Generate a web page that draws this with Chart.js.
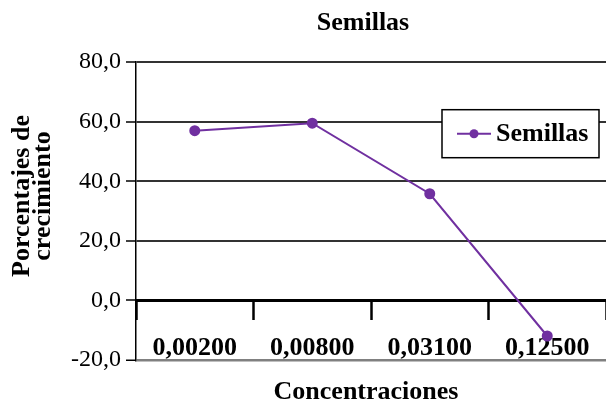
<!DOCTYPE html>
<html>
<head>
<meta charset="utf-8">
<script src="https://cdn.jsdelivr.net/npm/chart.js@4/dist/chart.umd.min.js"></script>
<style>
  html, body { margin: 0; padding: 0; background: #fff; }
  #wrap { width: 606px; height: 414px; }
</style>
</head>
<body>
<div id="wrap"><canvas id="chart" width="606" height="414"></canvas></div>
<script>
// Concentration categories and growth percentage of the seeds
const concentrations = ['0,00200', '0,00800', '0,03100', '0,12500'];
const seedGrowth = [57.0, 59.5, 35.8, -12.0];
const seriesName = 'Semillas';
const chartTitle = 'Semillas';
const xAxisTitle = 'Concentraciones';
const yAxisTitle = ['Porcentajes de', 'crecimiento'];
const yMin = -20, yMax = 80, yStep = 20;

const serif = '"Liberation Serif", "Times New Roman", serif';
const purple = '#7030A0';
const boldSize = 26;
Chart.defaults.font.family = serif;
Chart.defaults.color = '#000';

// Puts the title and the bottom caption on a common horizontal centre
const titleCentre = {
  id: 'titleCentre',
  afterLayout(chart, args, opts) {
    chart.boxes.forEach(b => {
      if (!b.options || (b.options.text !== chartTitle && b.options.text !== xAxisTitle)) return;
      const c = b.options.text === chartTitle ? opts.title : opts.caption;
      const half = (b.right - b.left) / 2;
      b.left = c - half;
      b.right = c + half;
    });
  }
};

// Two-line rotated caption of the value axis
const valueAxisCaption = {
  id: 'valueAxisCaption',
  afterDraw(chart, args, opts) {
    const { ctx } = chart;
    ctx.save();
    ctx.font = 'bold ' + boldSize + 'px ' + serif;
    ctx.fillStyle = '#000';
    ctx.textAlign = 'center';
    ctx.textBaseline = 'middle';
    ctx.translate(opts.x, opts.y);
    ctx.rotate(-Math.PI / 2);
    yAxisTitle.forEach((line, i) => ctx.fillText(line, 0, i * opts.lineGap));
    ctx.restore();
  }
};

// Boxed legend drawn inside the plot, near its upper right corner
const boxedLegend = {
  id: 'boxedLegend',
  afterDraw(chart) {
    const { ctx, chartArea } = chart;
    const ds = chart.data.datasets[0];
    const w = 157, h = 48;
    const x = chartArea.right - 164;
    const y = chartArea.top + 47.5;
    ctx.save();
    ctx.fillStyle = '#fff';
    ctx.fillRect(x, y, w, h);
    ctx.strokeStyle = '#000';
    ctx.lineWidth = 1.5;
    ctx.strokeRect(x, y, w, h);
    const cy = y + 24;
    ctx.strokeStyle = ds.borderColor;
    ctx.lineWidth = 2;
    ctx.beginPath();
    ctx.moveTo(x + 15, cy);
    ctx.lineTo(x + 49, cy);
    ctx.stroke();
    ctx.fillStyle = ds.pointBackgroundColor;
    ctx.beginPath();
    ctx.arc(x + 32, cy, 4.5, 0, Math.PI * 2);
    ctx.fill();
    ctx.fillStyle = '#000';
    ctx.font = 'bold ' + boldSize + 'px ' + serif;
    ctx.textBaseline = 'middle';
    ctx.textAlign = 'left';
    ctx.fillText(ds.label, x + 54, cy + 1);
    ctx.restore();
  }
};

new Chart(document.getElementById('chart'), {
  type: 'line',
  data: {
    labels: concentrations,
    datasets: [{
      label: seriesName,
      data: seedGrowth,
      borderColor: purple,
      backgroundColor: purple,
      pointBackgroundColor: purple,
      pointBorderColor: purple,
      borderWidth: 2,
      pointRadius: 4.5,
      tension: 0,
      clip: false
    }]
  },
  options: {
    responsive: false,
    animation: false,
    devicePixelRatio: 1,
    layout: { autoPadding: false, padding: { left: 0, right: -4, top: 0, bottom: 0 } },
    plugins: {
      legend: { display: false },
      tooltip: { enabled: false },
      title: {
        display: true,
        text: chartTitle,
        fullSize: false,
        font: { size: boldSize, weight: 'bold' },
        padding: { top: 8, bottom: 23 }
      },
      subtitle: {
        display: true,
        text: xAxisTitle,
        position: 'bottom',
        fullSize: false,
        font: { size: boldSize, weight: 'bold' },
        padding: { top: 17, bottom: 6 }
      },
      titleCentre: { title: 363, caption: 366 },
      valueAxisCaption: { x: 22.5, y: 196, lineGap: 21 }
    },
    scales: {
      x: {
        type: 'category',
        position: { y: 0 },
        offset: true,
        grid: {
          display: true,
          offset: true,
          drawOnChartArea: false,
          drawTicks: true,
          tickLength: 18,
          tickColor: '#000',
          tickWidth: 2.5
        },
        border: { display: true, color: '#000', width: 3 },
        ticks: {
          font: { size: boldSize, weight: 'bold' },
          color: '#000',
          padding: 14,
          maxRotation: 0,
          autoSkip: false
        }
      },
      y: {
        min: yMin,
        max: yMax,
        afterFit(scale) { scale.width = 136; },
        grid: {
          color: ctx => (ctx.tick && ctx.tick.value === yMin) ? '#808080' : '#333',
          lineWidth: ctx => (ctx.tick && ctx.tick.value === yMin) ? 2.5 : 2,
          tickColor: '#000',
          tickWidth: 1.5,
          tickLength: 10
        },
        border: { display: true, color: '#000', width: 1.5 },
        ticks: {
          stepSize: yStep,
          padding: 5,
          font: { size: 24 },
          color: '#000',
          callback: v => v.toFixed(1).replace('.', ',')
        }
      }
    }
  },
  plugins: [titleCentre, valueAxisCaption, boxedLegend]
});
</script>
</body>
</html>
